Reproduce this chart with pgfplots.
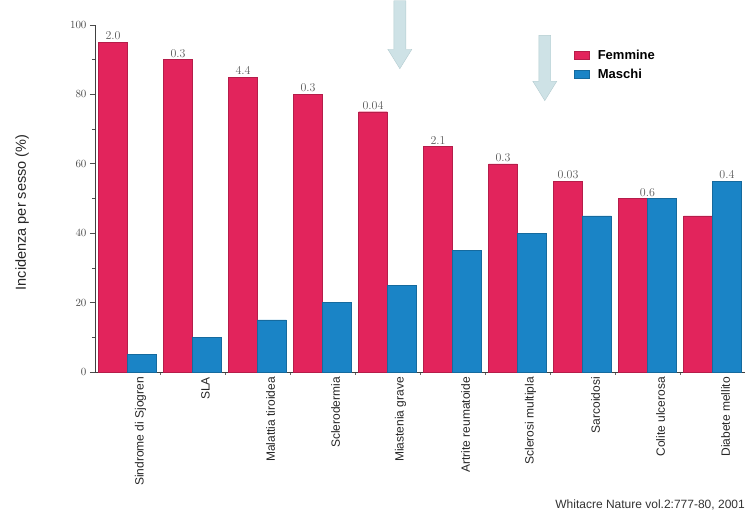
\documentclass[border=0pt]{standalone}
\usepackage{pgfplots}
\pgfplotsset{compat=1.18}
\usepackage{fontspec}
\setsansfont{Liberation Sans}
\definecolor{fem}{RGB}{226,36,92}
\definecolor{mas}{RGB}{26,132,198}
\definecolor{arr}{RGB}{206,226,230}
\definecolor{arredge}{RGB}{180,204,208}
\begin{document}
\begin{tikzpicture}[x=1pt,y=1pt]
\useasboundingbox (-95,-144) rectangle (650,372);
\begin{axis}[
  at={(0,0)}, anchor=south west,
  scale only axis, width=650pt, height=347pt,
  xmin=-0.5, xmax=9.5, ymin=0, ymax=100,
  clip=false,
  axis x line*=bottom, axis y line*=left,
  axis line style={black!75, line width=0.8pt},
  xtick={0,...,9},
  xticklabels={Sindrome di Sjogren, SLA, Malattia tiroidea, Sclerodermia, Miastenia grave, Artrite reumatoide, Sclerosi multipla, Sarcoidosi, Colite ulcerosa, Diabete mellito},
  minor xtick={0.5,1.5,...,8.5},
  xticklabel style={rotate=90, anchor=east, font=\sffamily\fontsize{12}{13}\selectfont, color=black!85, inner sep=0pt, yshift=-13pt},
  ytick={0,20,...,100},
  minor y tick num=1,
  yticklabel style={font=\fontsize{11}{12}\selectfont, color=black!70},
  tick align=outside,
  major tick length=5pt, minor tick length=3pt,
  x tick style={draw=none},
  minor x tick style={draw=black!60, line width=0.6pt},
  y tick style={black!70, line width=0.6pt},
  ylabel={Incidenza per sesso (\%)},
  ylabel style={at={(axis description cs:-0.112,0.46)}, anchor=center, font=\sffamily\fontsize{14.5}{16}\selectfont, color=black!85},
  legend style={at={(axis cs:6.86,93.5)}, anchor=north west, draw=none, fill=none,
    font=\sffamily\bfseries\fontsize{13}{14}\selectfont, row sep=4pt, inner sep=0pt},
  legend cell align=left,
  legend image code/.code={\fill[#1] (0pt,-4pt) rectangle (15pt,4pt); \path[draw=none,fill=none] (0pt,0pt) -- (22pt,0pt);},
]
\addplot[ybar, bar width=0.445, bar shift=-0.2225, fill=fem, draw=fem!80!black, line width=0.4pt]
  coordinates {(0,95) (1,90) (2,85) (3,80) (4,75) (5,65) (6,60) (7,55) (8,50) (9,45)};
\addlegendentry{Femmine}
\addplot[ybar, bar width=0.445, bar shift=0.2225, fill=mas, draw=mas!80!black, line width=0.4pt]
  coordinates {(0,5) (1,10) (2,15) (3,20) (4,25) (5,35) (6,40) (7,45) (8,50) (9,55)};
\addlegendentry{Maschi}
\addplot[draw=none, mark=none, forget plot, nodes near coords, point meta=explicit symbolic,
  nodes near coords style={anchor=south, font=\fontsize{12}{13}\selectfont, color=black!65, inner sep=2pt}]
  table[meta=lab] {
x y lab
-0.2225 95 2.0
0.7775 90 0.3
1.7775 85 4.4
2.7775 80 0.3
3.7775 75 0.04
4.7775 65 2.1
5.7775 60 0.3
6.7775 55 0.03
8.0 50 0.6
9.2225 55 0.4
};
% decorative arrows
\fill[arr, draw=arredge, line width=0.4pt]
  (axis cs:4.098,107) -- (axis cs:4.282,107) -- (axis cs:4.282,93.0) -- (axis cs:4.375,93.0)
  -- (axis cs:4.19,87.4) -- (axis cs:4.005,93.0) -- (axis cs:4.098,93.0) -- cycle;
\fill[arr, draw=arredge, line width=0.4pt]
  (axis cs:6.328,97) -- (axis cs:6.512,97) -- (axis cs:6.512,83.8) -- (axis cs:6.605,83.8)
  -- (axis cs:6.42,78.2) -- (axis cs:6.235,83.8) -- (axis cs:6.328,83.8) -- cycle;
\end{axis}
\node[anchor=east, font=\sffamily\fontsize{12}{13}\selectfont, color=black!80, inner sep=0pt] at (650,-133) {Whitacre Nature vol.2:777-80, 2001};
\end{tikzpicture}
\end{document}
